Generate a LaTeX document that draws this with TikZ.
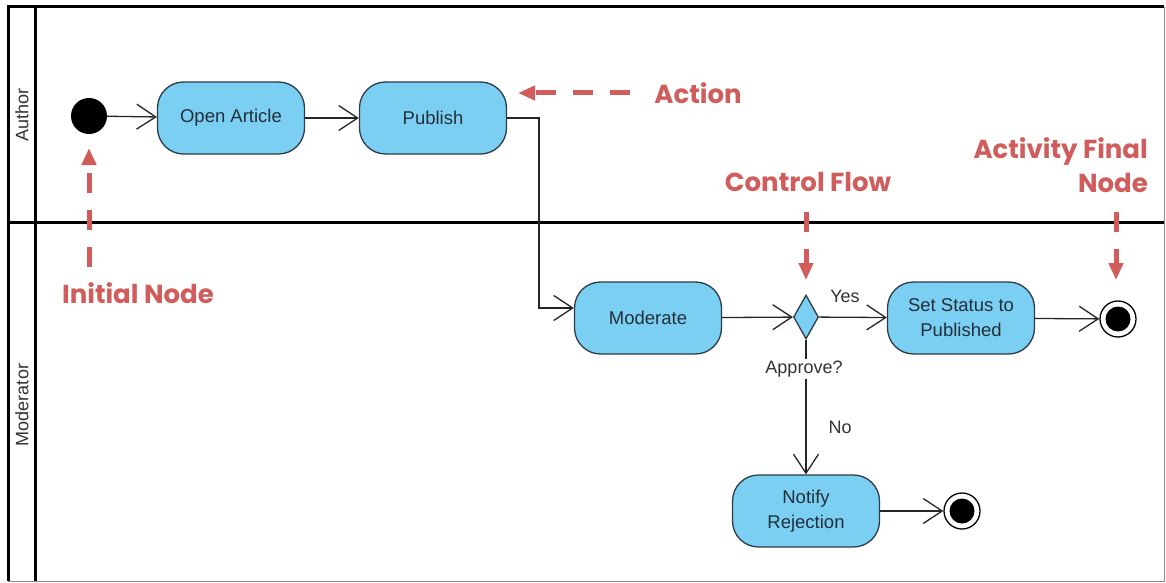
\documentclass[tikz,border=0pt]{standalone}
\usepackage{fontspec}
\setmainfont{Liberation Sans}
\newfontfamily\annfont{Poppins}
\usetikzlibrary{arrows.meta,shapes.geometric}
\definecolor{nodefill}{RGB}{122,207,242}
\definecolor{nodeline}{RGB}{45,60,72}
\definecolor{anncol}{RGB}{208,92,92}
\definecolor{txtcol}{RGB}{35,47,57}
\tikzset{
  lane/.style={line width=3pt, black},
  actbox/.style={draw=nodeline, fill=nodefill, line width=1.3pt, rounded corners=26pt,
     minimum width=147pt, minimum height=72pt, align=center, text=txtcol,
     font=\fontsize{18.5}{25}\selectfont, inner sep=0pt},
  flow/.style={line width=1.3pt, draw=black!85, -{Straight Barb[length=19pt,width=25pt,line width=1.3pt]}},
  lbl/.style={font=\fontsize{18}{21}\selectfont, text=black!80, inner sep=1pt},
  ann/.style={font=\annfont\bfseries\fontsize{26}{34}\selectfont, text=anncol, inner sep=0pt},
  annarrow/.style={draw=anncol, line width=5pt, dash pattern=on 20pt off 17pt,
     -{Triangle[length=17pt,width=14pt]}},
  initnode/.style={circle, fill=black, minimum size=36pt, inner sep=0pt},
  finalnode/.style={circle, draw=black, fill=white, line width=1.3pt, minimum size=36pt, inner sep=0pt,
     path picture={\fill[black] (path picture bounding box.center) circle (12.5pt);}},
  decision/.style={diamond, draw=nodeline, fill=nodefill, line width=1.3pt, minimum width=25pt,
     minimum height=44pt, inner sep=0pt}
}
\begin{document}
\begin{tikzpicture}[x=1pt,y=-1pt]
\useasboundingbox (0,0) rectangle (1166,583);
\fill[white] (0,0) rectangle (1166,583);
% swimlanes
\draw[black!45, line width=1pt] (8,581) -- (1164,581) -- (1164,7);
\draw[lane] (6.5,7) -- (1164,7);
\draw[lane] (8,7) -- (8,581);
\draw[lane] (35,7) -- (35,581);
\draw[lane] (8,222) -- (1164,222);
\node[lbl, rotate=90] (laneA) at (22,115) {Author};
\node[lbl, rotate=90] (laneM) at (22,405) {Moderator};
% nodes
\node[initnode] (init) at (89,116) {};
\node[actbox] (open) at (231,118) {Open Article};
\node[actbox] (pub) at (433,118) {Publish};
\node[actbox] (mod) at (648,318) {Moderate};
\node[decision] (dec) at (806,317) {};
\node[actbox] (set) at (961,318) {Set Status to\\Published};
\node[finalnode] (fin1) at (1118,319) {};
\node[actbox] (rej) at (806,511) {Notify\\Rejection};
\node[finalnode] (fin2) at (962,511) {};
% flows
\draw[flow] (init) -- (open);
\draw[flow] (open) -- (pub);
\coordinate (bend) at (539,118);
\draw[flow] (pub.east) -- (bend) |- ([yshift=10pt]mod.west);
\draw[flow] (mod) -- (dec);
\draw[flow] (dec) -- (set);
\draw[flow] (set) -- (fin1);
\draw[flow] (dec.south) -- (rej.north);
\draw[flow] (rej) -- (fin2);
\node[lbl] (yes) at (845,296) {Yes};
\node[lbl, fill=white, inner sep=2pt] (appr) at (804,369) {Approve?};
\node[lbl] (no) at (840,427) {No};
% annotations
\node[ann] (aAction) at (698,93) {Action};
\coordinate (aA1) at (630,93);
\coordinate (aA2) at (518,93);
\draw[annarrow] (aA1) -- (aA2);
\node[ann] (aInit) at (138,293) {Initial Node};
\coordinate (aI1) at (89,267);
\coordinate (aI2) at (89,148);
\draw[annarrow] (aI1) -- (aI2);
\node[ann] (aCtrl) at (808,182) {Control Flow};
\coordinate (aC1) at (806,212);
\coordinate (aC2) at (806,280);
\draw[annarrow] (aC1) -- (aC2);
\node[ann, align=right, anchor=east] (aFin) at (1148,165) {Activity Final\\Node};
\coordinate (aF1) at (1116,212);
\coordinate (aF2) at (1116,280);
\draw[annarrow] (aF1) -- (aF2);
\end{tikzpicture}
\end{document}
